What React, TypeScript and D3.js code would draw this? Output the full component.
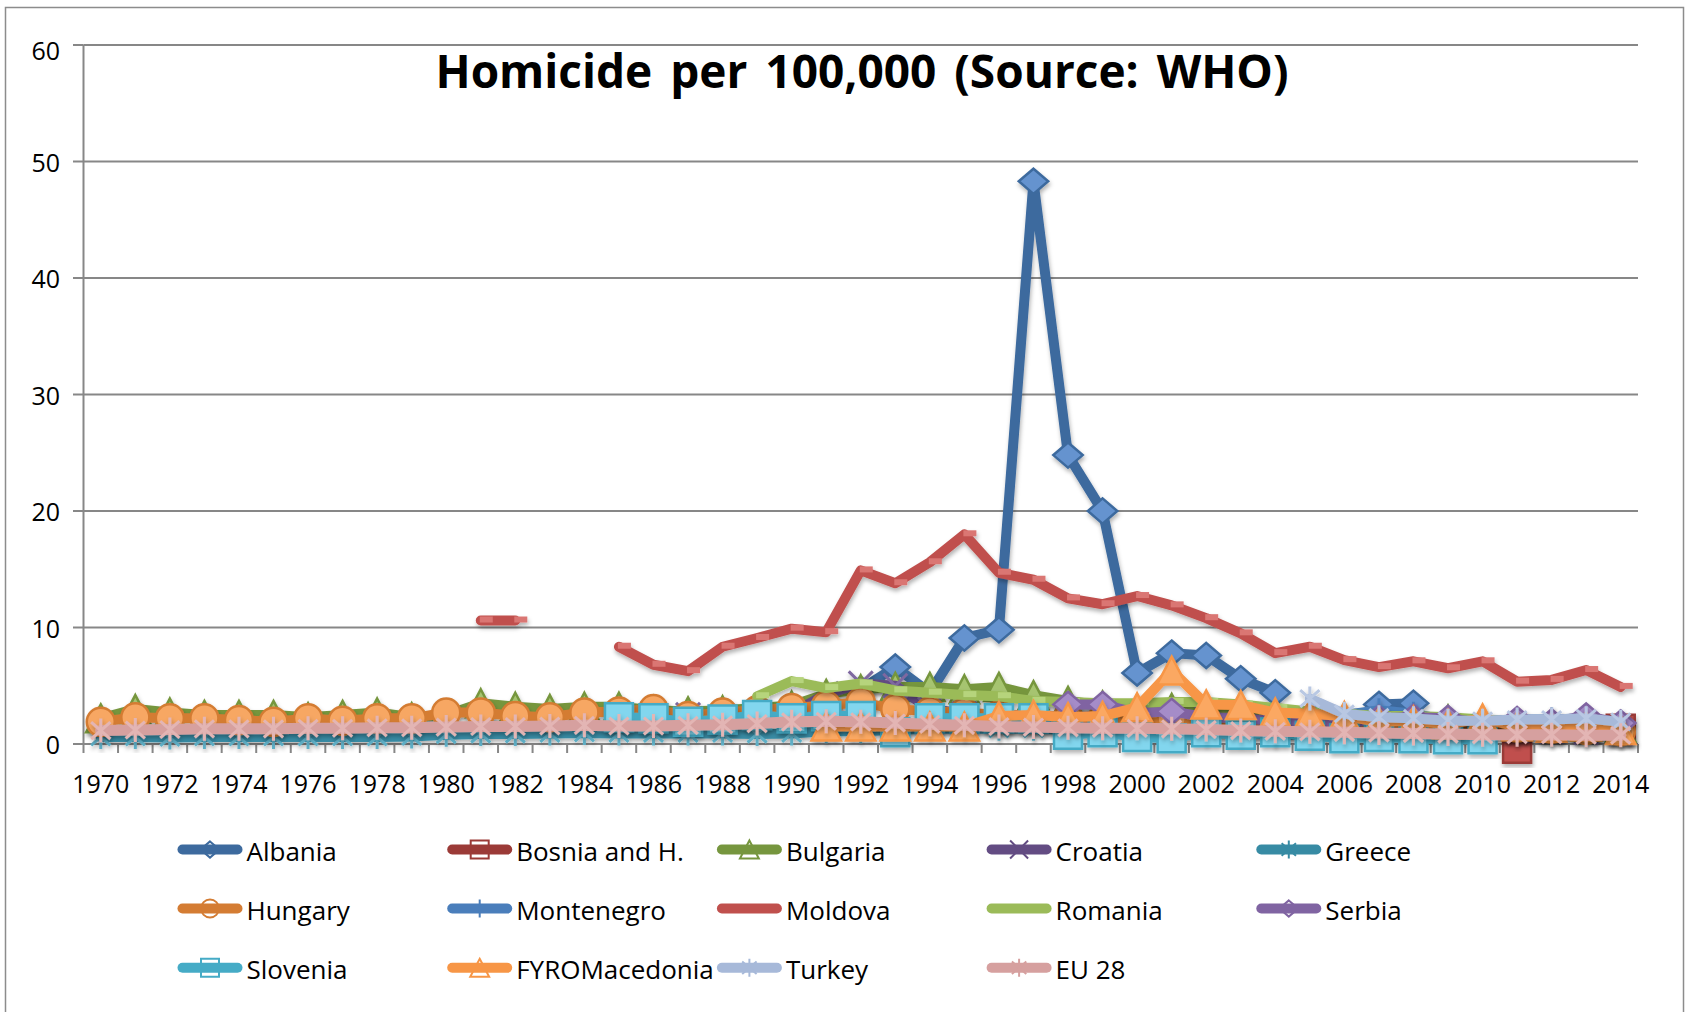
import React from "react";
import * as d3 from "d3";

// ---------- data ----------
const years: number[] = [
  1970, 1971, 1972, 1973, 1974, 1975, 1976, 1977, 1978, 1979,
  1980, 1981, 1982, 1983, 1984, 1985, 1986, 1987, 1988, 1989,
  1990, 1991, 1992, 1993, 1994, 1995, 1996, 1997, 1998, 1999,
  2000, 2001, 2002, 2003, 2004, 2005, 2006, 2007, 2008, 2009,
  2010, 2011, 2012, 2013, 2014,
];
const yTicks = [0, 10, 20, 30, 40, 50, 60];
const xLabelYears = years.filter((_, i) => i % 2 === 0);
const title = "Homicide per 100,000 (Source: WHO)";

type V = number | null;
function span(start: number, values: V[]): V[] {
  return years.map((yr) => {
    const k = yr - start;
    return k >= 0 && k < values.length ? values[k] : null;
  });
}

const albania = span(1992, [4.7, 6.6, 4.4, 9.1, 9.8, 48.3, 24.8, 20.0, 6.1, 7.8, 7.6, 5.6, 4.4, null, null, 3.4, 3.5]);
const bosnia = span(2011, [-0.4, null, null, 1.3]);
const bulgaria = span(1970, [
  2.2, 3.0, 2.7, 2.5, 2.5, 2.5, 2.3, 2.5, 2.7, 2.3,
  2.5, 3.5, 3.2, 3.0, 3.2, 3.2, 2.9, 2.8, 2.9, 3.1,
  3.3, 4.3, 4.7, 4.9, 4.9, 4.7, 4.9, 4.2, 3.7, 3.3,
  3.0, 3.1, 2.9, 2.6, 2.4, 2.2, 2.1, 2.1, 2.2, 2.1,
  1.9, 1.6, 1.7, 1.5, 1.4,
]);
const croatia = span(1985, [
  2.5, 2.4, 2.5, 2.4, 2.5, 2.6, 4.3, 5.2, 5.0, 3.0, 2.6, 2.4, 2.5, 2.3, 2.4,
  2.2, 2.0, 2.3, 1.8, 1.7, 1.6, 1.5, 1.6, 1.5, 1.4, 1.3, 1.2, 1.1, 1.0, 0.9,
]);
const greece = span(1970, [
  0.6, 0.6, 0.55, 0.6, 0.6, 0.6, 0.6, 0.6, 0.6, 0.65,
  0.8, 0.85, 0.85, 0.9, 0.95, 0.9, 0.9, 0.9, 0.9, 0.85,
  0.9, 1.1, 1.1, 1.2, 1.3, 1.3, 1.3, 1.3, 1.2, 1.2,
  1.0, 0.9, 0.9, 0.9, 0.8, 0.8, 0.8, 0.8, 0.9, 0.9,
  1.0, 1.0, 0.9, 0.9, 0.8,
]);
const hungary = span(1970, [
  1.9, 2.3, 2.2, 2.2, 2.05, 1.9, 2.2, 2.0, 2.2, 2.2,
  2.7, 2.7, 2.4, 2.3, 2.7, 2.8, 3.0, 2.4, 2.7, 2.9,
  3.1, 3.3, 3.6, 3.0, 2.8, 2.7, 2.5, 2.4, 2.3, 2.2,
  2.1, 2.2, 2.1, 2.0, 1.9, 1.7, 1.6, 1.5, 1.5, 1.4,
  1.4, 1.4, 1.3, 1.2, 1.1,
]);
const montenegro = span(2005, [3.0, 2.5, 2.9, 2.6, 2.0, 2.0, 2.1, 2.1, 2.2, 1.9]);
const moldova = span(1981, [
  10.6, 10.6, null, null,
  8.35, 6.8, 6.25, 8.35, 9.1, 9.9, 9.6, 14.9, 13.8, 15.6,
  18.0, 14.7, 14.1, 12.5, 12.0, 12.7, 11.9, 10.8, 9.5, 7.8,
  8.35, 7.2, 6.6, 7.1, 6.5, 7.1, 5.35, 5.5, 6.35, 4.9,
]);
const romania = span(1989, [
  4.1, 5.4, 4.8, 5.2, 4.6, 4.4, 4.2, 4.1, 3.7, 3.6, 3.5,
  3.5, 3.6, 3.6, 3.4, 3.1, 2.8, 2.6, 2.4, 2.4, 2.3,
  2.1, 1.9, 2.0, 1.8, 1.7,
]);
const serbia = span(1998, [3.4, 3.4, 2.65, 2.8, 2.3, 2.2, 2.0, 1.9, 1.7, 2.2, 2.3, 2.2, 1.8, 2.1, 1.9, 2.4, 1.8]);
const slovenia = span(1985, [
  2.3, 2.2, 1.9, 2.1, 2.5, 2.2, 2.4, 2.4, 1.0, 2.2, 2.2, 2.2, 2.2, 0.8, 1.0,
  0.6, 0.5, 1.0, 0.8, 1.0, 0.7, 0.5, 0.6, 0.5, 0.4, 0.4,
]);
const fyromacedonia = span(1991, [
  1.5, 1.5, 1.5, 1.5, 1.5, 2.4, 2.5, 2.3, 2.4,
  3.15, 6.3, 3.4, 3.35, 2.7, 2.6, 2.4, 1.9, 2.0, 1.7,
  2.2, 1.5, 1.4, 1.5, 1.2,
]);
const turkey = span(2005, [3.9, 2.6, 2.3, 2.2, 2.0, 2.0, 2.1, 2.1, 2.2, 1.9]);
const eu28 = span(1970, [
  1.15, 1.2, 1.25, 1.3, 1.3, 1.3, 1.35, 1.35, 1.4, 1.4,
  1.45, 1.5, 1.5, 1.55, 1.6, 1.55, 1.55, 1.6, 1.65, 1.75,
  1.9, 1.95, 1.9, 1.8, 1.7, 1.6, 1.5, 1.45, 1.4, 1.35,
  1.35, 1.3, 1.25, 1.15, 1.1, 1.05, 1.0, 0.95, 0.9, 0.85,
  0.8, 0.8, 0.8, 0.75, 0.75,
]);

type Marker = "diamond" | "square" | "triangle" | "x" | "star" | "circle" | "plus" | "dash";
interface Series { name: string; data: V[]; color: string; fill: string; marker: Marker; }

const series: Series[] = [
  { name: "Albania", data: albania, color: "#3D6A9E", fill: "#6593CF", marker: "diamond" },
  { name: "Bosnia and H.", data: bosnia, color: "#9B3A37", fill: "#C0504D", marker: "square" },
  { name: "Bulgaria", data: bulgaria, color: "#76963E", fill: "#A6C46F", marker: "triangle" },
  { name: "Croatia", data: croatia, color: "#634C83", fill: "#7E67A0", marker: "x" },
  { name: "Greece", data: greece, color: "#378BA4", fill: "#5FAFC6", marker: "star" },
  { name: "Hungary", data: hungary, color: "#D47C33", fill: "#F7A764", marker: "circle" },
  { name: "Montenegro", data: montenegro, color: "#4A7EBB", fill: "#4A7EBB", marker: "plus" },
  { name: "Moldova", data: moldova, color: "#C0504D", fill: "#DA7673", marker: "dash" },
  { name: "Romania", data: romania, color: "#9BBB59", fill: "#B6D47C", marker: "dash" },
  { name: "Serbia", data: serbia, color: "#8064A2", fill: "#A58CC8", marker: "diamond" },
  { name: "Slovenia", data: slovenia, color: "#45ABC6", fill: "#82D6EE", marker: "square" },
  { name: "FYROMacedonia", data: fyromacedonia, color: "#F79646", fill: "#FBA862", marker: "triangle" },
  { name: "Turkey", data: turkey, color: "#A7B9D9", fill: "#B9C8E3", marker: "star" },
  { name: "EU 28", data: eu28, color: "#D6A09F", fill: "#E3B5B4", marker: "star" },
];

// ---------- layout ----------
const W = 1689;
const H = 1012;
const PLOT = { left: 83.5, right: 1638, top: 45, bottom: 744 };
const FONT = "'Open Sans', 'Noto Sans', sans-serif";
const GRID = "#878787";

function markerPath(m: Marker, x: number, y: number, s: number): string {
  const h = s / 2;
  switch (m) {
    case "diamond":
      return `M${x},${y - h * 0.9}L${x + h * 1.05},${y}L${x},${y + h * 0.9}L${x - h * 1.05},${y}Z`;
    case "square":
      return `M${x - h},${y - h}H${x + h}V${y + h}H${x - h}Z`;
    case "triangle":
      return `M${x},${y - h}L${x + h * 1.05},${y + h}H${x - h * 1.05}Z`;
    case "circle":
      return `M${x - h},${y}A${h},${h} 0 1 0 ${x + h},${y}A${h},${h} 0 1 0 ${x - h},${y}Z`;
    case "x":
      return `M${x - h},${y - h}L${x + h},${y + h}M${x + h},${y - h}L${x - h},${y + h}`;
    case "plus":
      return `M${x},${y - h}V${y + h}M${x - h},${y}H${x + h}`;
    case "star":
      return `M${x},${y - h}V${y + h}M${x - h * 0.8},${y - h * 0.7}L${x + h * 0.8},${y + h * 0.7}M${x + h * 0.8},${y - h * 0.7}L${x - h * 0.8},${y + h * 0.7}`;
    default:
      return "";
  }
}
const isStroked = (m: Marker) => m === "x" || m === "plus" || m === "star";

export default function App() {
  const xb = d3.scaleBand<number>().domain(years).range([PLOT.left, PLOT.right]);
  const cx = (yr: number) => (xb(yr) as number) + xb.bandwidth() / 2;
  const y = d3.scaleLinear().domain([0, 60]).range([PLOT.bottom, PLOT.top]);
  type P = { yr: number; v: V };
  const lineGen = d3
    .line<P>()
    .defined((d) => d.v !== null)
    .x((d) => cx(d.yr))
    .y((d) => y(d.v as number));

  const boundaries = years.map((yr) => xb(yr) as number).concat([PLOT.right]);

  const legendCol = (i: number) => 177.5 + (i % 5) * 269.7;
  const legendRowY = [849.5, 908.5, 967.8];

  return (
    <div style={{ position: "absolute", left: 0, top: 0 }}>
      <svg width={W} height={H} style={{ display: "block", background: "#fff" }} fontFamily={FONT}>
        <defs>
          <filter id="shadow" x="-5%" y="-5%" width="110%" height="115%">
            <feDropShadow dx="1" dy="3" stdDeviation="2" floodColor="#000" floodOpacity="0.3" />
          </filter>
        </defs>
        <rect x={5.5} y={7.5} width={1678} height={1020} fill="#fff" stroke="#8c8c8c" strokeWidth={1.5} />

        {/* gridlines */}
        {yTicks.map((t) => (
          <g key={t}>
            {t > 0 && (
              <line x1={PLOT.left} x2={PLOT.right} y1={y(t)} y2={y(t)} stroke={GRID} strokeWidth={2} />
            )}
            <line x1={73} x2={PLOT.left} y1={y(t)} y2={y(t)} stroke={GRID} strokeWidth={2} />
            <text
              x={60}
              y={t === 60 ? y(t) + 15 : y(t) + 10}
              textAnchor="end"
              fontSize={25}
              fill="#000"
            >
              {t}
            </text>
          </g>
        ))}
        {/* axes */}
        <line x1={PLOT.left} x2={PLOT.left} y1={PLOT.top} y2={PLOT.bottom} stroke={GRID} strokeWidth={2} />
        <line x1={PLOT.left} x2={PLOT.right} y1={PLOT.bottom} y2={PLOT.bottom} stroke={GRID} strokeWidth={2} />
        {boundaries.map((bx, i) => (
          <line key={i} x1={bx} x2={bx} y1={PLOT.bottom} y2={PLOT.bottom + 9} stroke={GRID} strokeWidth={2} />
        ))}
        {xLabelYears.map((yr) => (
          <text key={yr} x={cx(yr)} y={793} textAnchor="middle" fontSize={25} fill="#000">
            {yr}
          </text>
        ))}

        {/* series */}
        {series.map((s) => {
          const pts: P[] = years.map((yr, i) => ({ yr, v: s.data[i] }));
          const valid = pts.filter((p) => p.v !== null);
          const lw = s.name === "EU 28" ? 11 : 10;
          return (
            <g key={s.name} filter="url(#shadow)">
              <path
                d={lineGen(pts) || ""}
                fill="none"
                stroke={s.color}
                strokeWidth={lw}
                strokeLinecap="round"
                strokeLinejoin="round"
              />
              {valid.map((p) =>
                s.marker === "dash" ? (
                  <rect
                    key={p.yr}
                    x={cx(p.yr) - 1}
                    y={y(p.v as number) - 4}
                    width={13}
                    height={6}
                    fill={s.fill}
                  />
                ) : (
                  <path
                    key={p.yr}
                    d={markerPath(s.marker, cx(p.yr), y(p.v as number), isStroked(s.marker) ? 24 : 28)}
                    fill={isStroked(s.marker) ? "none" : s.fill}
                    stroke={isStroked(s.marker) ? s.fill : s.color}
                    strokeWidth={isStroked(s.marker) ? 3 : 2.5}
                  />
                )
              )}
            </g>
          );
        })}

        {/* title */}
        <text x={862} y={88} textAnchor="middle" fontSize={46} fontWeight="bold" fill="#000" wordSpacing={6}>
          {title}
        </text>

        {/* legend */}
        {series.map((s, i) => {
          const lx = legendCol(i);
          const ly = legendRowY[Math.floor(i / 5)];
          const mx = lx + 32.5;
          return (
            <g key={s.name}>
              {s.marker !== "dash" && !isStroked(s.marker) && (
                <path d={markerPath(s.marker, mx, ly, 18)} fill="#fff" stroke={s.color} strokeWidth={2} />
              )}
              <line x1={lx + 5} x2={lx + 60} y1={ly} y2={ly} stroke={s.color} strokeWidth={10} strokeLinecap="round" />
              {isStroked(s.marker) && (
                <path d={markerPath(s.marker, mx, ly, 18)} fill="none" stroke={s.color} strokeWidth={2} />
              )}
              <text x={lx + 69} y={ly + 11.5} fontSize={26} fill="#000">
                {s.name}
              </text>
            </g>
          );
        })}
      </svg>
    </div>
  );
}
